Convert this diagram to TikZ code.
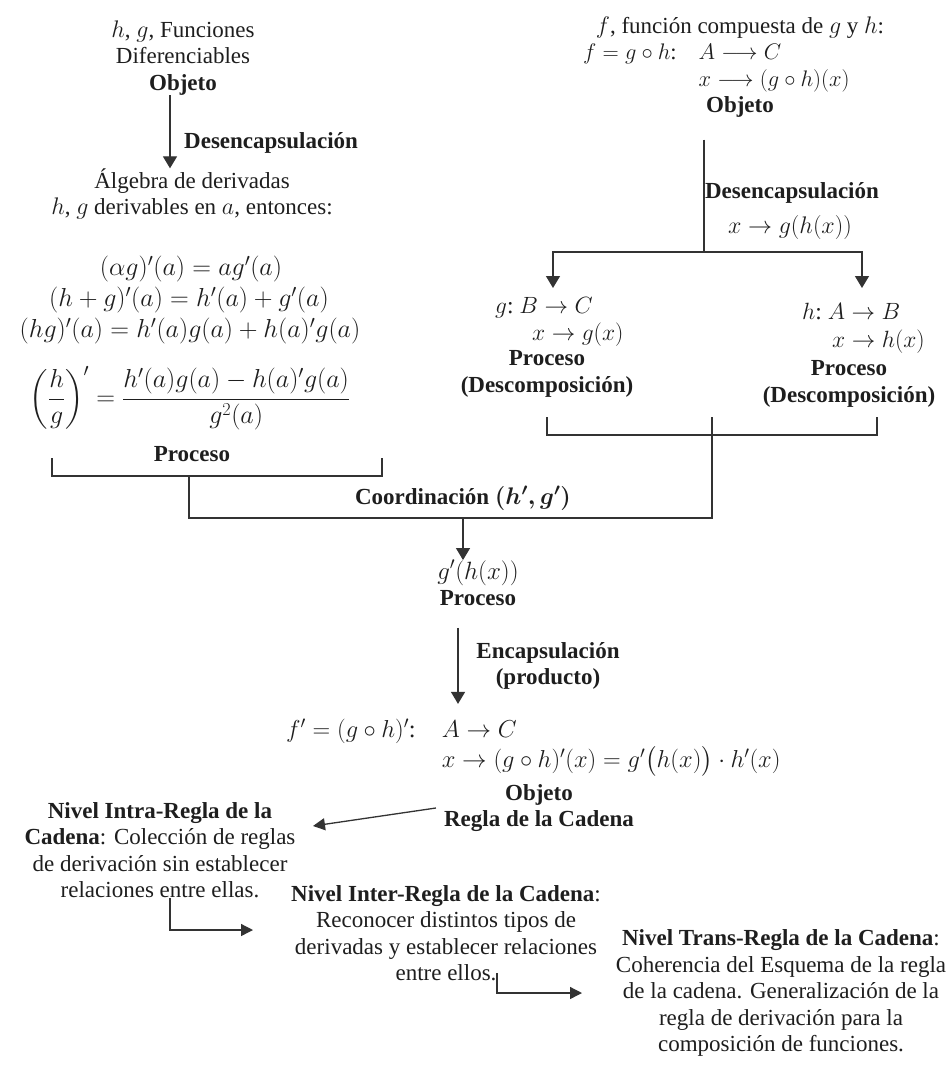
\documentclass[tikz,border=0pt]{standalone}
\usepackage{fix-cm}
\usepackage{amsmath}
\usepackage{fontspec}
\setmainfont{Liberation Serif}
\usetikzlibrary{arrows.meta}
\definecolor{ink}{HTML}{1E1E1E}
\definecolor{linec}{HTML}{333333}
\DeclareMathSizes{23}{24}{17}{13}
\newcommand\fsz{\fontsize{23}{26.5}\selectfont}
\newcommand\msz[1]{\fontsize{#1}{#1}\selectfont}
\begin{document}
\begin{tikzpicture}[x=1pt,y=-1pt,
  every node/.style={inner sep=0pt,font=\fsz,text=ink,align=center},
  conn/.style={draw=linec,line width=1.3pt},
  arr/.style={conn,-{Triangle[width=14pt,length=12pt]}},
  sarr/.style={conn,-{Triangle[width=12pt,length=12pt]}},
  lab/.style={font=\fsz\bfseries},
  fml/.style={font=\fontsize{26}{31}\selectfont}]
\fill[white] (0,0) rectangle (950,1067);
\useasboundingbox (0,0) rectangle (950,1067);

% ---------- top left
\node (A) at (183,58) {$h$, $g$, Funciones\\Diferenciables\\\textbf{Objeto}};
\node[lab,anchor=west] (D1) at (184,143) {Desencapsulación};
\node (B) at (192,194) {Álgebra de derivadas\\$h$, $g$ derivables en $a$, entonces:};
\coordinate (a1) at (170,0);
\draw[arr] (A.south -| a1) -- (B.north -| a1);
\node[fml] (F1) at (191,269) {$(\alpha g)'(a) = a g'(a)$};
\node[fml] (F2) at (189,300) {$(h+g)'(a) = h'(a) + g'(a)$};
\node[fml] (F3) at (190,331) {$(hg)'(a) = h'(a)g(a) + h(a)'g(a)$};
\node[fml] (F4) at (190,398) {$\left(\dfrac{h}{g}\right)' = \dfrac{h'(a)g(a) - h(a)'g(a)}{g^2(a)}$};
\node[lab] (P1) at (192,454) {Proceso};
\coordinate (b1l) at (52,458);
\coordinate (b1r) at (382,458);
\draw[conn] (b1l) -- ++(0,18) -| (b1r);

% ---------- top right
\node (R1) at (740,28) {$f$, función compuesta de $g$ y $h$:};
\node[anchor=west,font=\fontsize{22.5}{27}\selectfont] (R2) at (583,68) {\begin{tabular}{@{}l@{\hspace{22pt}}l@{}}$f = g\circ h$: & $A \longrightarrow C$\\ & $x \longrightarrow (g\circ h)(x)$\end{tabular}};
\node[lab] (R3) at (740,107) {Objeto};
\node[lab] (D2) at (792,193) {Desencapsulación};
\node[font=\fontsize{24}{28}\selectfont] (D2b) at (790,228) {$x \to g(h(x))$};
\coordinate (v1) at (704,0);
\coordinate (brM) at (704,252);
\coordinate (tL) at (553,288);
\coordinate (tR) at (862,288);
\draw[conn,shorten <=22pt] (R3.south -| v1) -- (brM);
\draw[arr] (brM) -| (tL);
\draw[arr] (brM) -| (tR);

\node[anchor=north west,font=\fontsize{23.5}{27}\selectfont] (GB) at (495,294) {\begin{tabular}{@{}l@{}}$g$:~$B \to C$\\\hspace{37pt}$x \to g(x)$\end{tabular}};
\node[lab] (GBP) at (547,374) {Proceso\\(Descomposición)};
\node[anchor=north west,font=\fontsize{23.5}{28}\selectfont] (HB) at (802,300) {\begin{tabular}{@{}l@{}}$h$:~$A \to B$\\\hspace{30pt}$x \to h(x)$\end{tabular}};
\node[lab] (HBP) at (849,384) {Proceso\\(Descomposición)};
\coordinate (b2l) at (547,417);
\coordinate (b2r) at (877,417);
\draw[conn] (b2l) -- ++(0,18) -| (b2r);

% ---------- coordination
\coordinate (c1) at (189,476);
\coordinate (cL) at (189,518);
\coordinate (cR) at (712,518);
\coordinate (c2) at (712,417);
\draw[conn] (c1) -- (cL) -- (cR) -- (c2);
\node[lab] (CO) at (463,498) {Coordinación {\boldmath$(h', g')$}};
\node (G) at (478,583) {{\msz{25}$g'(h(x))$}\\\textbf{Proceso}};
\coordinate (gx) at (463,518);
\draw[arr] (gx) -- (gx |- G.north);

% ---------- encapsulation
\node[lab] (EN) at (548,666) {Encapsulación\\(producto)};
\node[anchor=west,font=\fontsize{24.5}{28}\selectfont] (H1) at (286,747) {\begin{tabular}{@{}l@{\hspace{26pt}}l@{}}$f' = (g\circ h)'$: & $A \to C$\\ & $x \to (g\circ h)'(x) = g'\big(h(x)\big)\cdot h'(x)$\end{tabular}};
\coordinate (ex) at (458,0);
\draw[arr,shorten <=22pt,shorten >=14pt] (G.south -| ex) -- (H1.north -| ex);
\node[lab] (H2) at (539,808) {Objeto\\Regla de la Cadena};

% ---------- levels
\node (L1) at (160,850) {\textbf{Nivel Intra-Regla de la}\\\textbf{Cadena}: Colección de reglas\\de derivación sin establecer\\relaciones entre ellas.};
\node (L2) at (446,933) {\textbf{Nivel Inter-Regla de la Cadena}:\\Reconocer distintos tipos de\\derivadas y establecer relaciones\\entre ellos.};
\node (L3) at (781,993) {\textbf{Nivel Trans-Regla de la Cadena}:\\Coherencia del Esquema de la regla\\de la cadena. Generalización de la\\regla de derivación para la\\composición de funciones.};

\coordinate (t1) at (313,826);
\draw[sarr] ([xshift=-8pt]H2.west) -- (t1);
\coordinate (k1) at (170,0);
\coordinate (t2) at (253,930);
\draw[sarr] (L1.south -| k1) |- (t2);
\coordinate (k2) at (497,0);
\coordinate (t3) at (582,993);
\draw[sarr,shorten <=-8pt] (L2.south -| k2) |- (t3);
\end{tikzpicture}
\end{document}
